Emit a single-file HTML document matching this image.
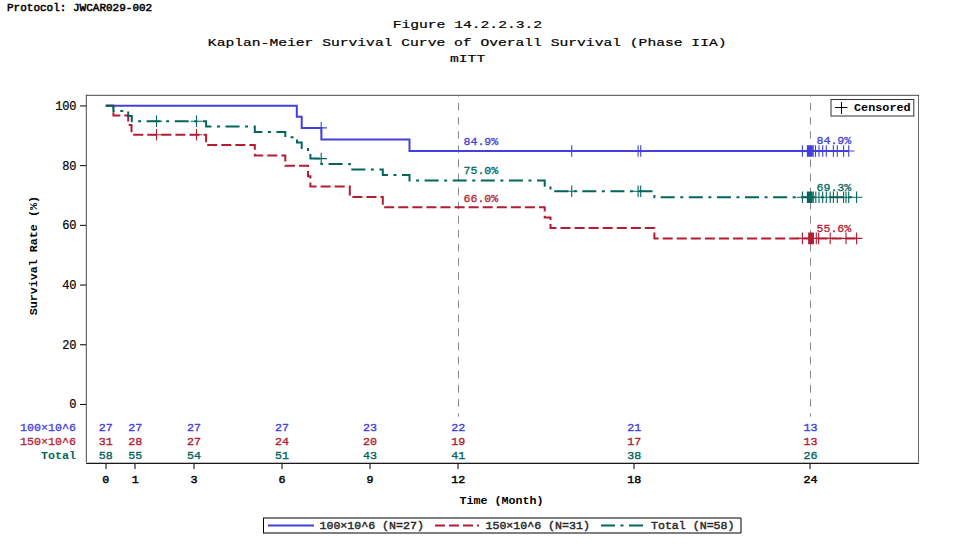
<!DOCTYPE html>
<html><head><meta charset="utf-8"><title>Figure 14.2.2.3.2</title>
<style>html,body{margin:0;padding:0;background:#fff;width:953px;height:554px;overflow:hidden}svg{display:block}</style>
</head><body>
<svg width="953" height="554" viewBox="0 0 953 554"><rect width="953" height="554" fill="#fff"/><text x="7" y="11.2" style="font-family:'Liberation Mono',monospace;font-size:11px;stroke:#000;stroke-width:0.5px">Protocol: JWCAR029-002</text><g style="font-family:'Liberation Mono',monospace;font-size:14.67px;stroke:#000;stroke-width:0.25px" text-anchor="middle" transform="scale(1 0.8)"><text x="467.4" y="34.75">Figure 14.2.2.3.2</text><text x="467.2" y="57.25">Kaplan-Meier Survival Curve of Overall Survival (Phase IIA)</text><text x="467.6" y="77.87">mITT</text></g><g stroke="#8a8a8a" stroke-width="1" stroke-dasharray="7.6 6.5" stroke-dashoffset="6.1"><line x1="458.5" y1="95" x2="458.5" y2="416.6"/><line x1="810.5" y1="95" x2="810.5" y2="416.6"/></g><path d="M85.5 95V463M86 94.5H918" stroke="#ddd" stroke-width="1" fill="none"/><path d="M86.5 95V463M86 95.5H919M918.5 95V463" stroke="#6a6a6a" stroke-width="1" fill="none"/><path d="M86 462.5H919" stroke="#bbb" stroke-width="1" fill="none"/><path d="M86 463.5H919" stroke="#1a1a1a" stroke-width="1" fill="none"/><rect x="86" y="95" width="1" height="1" fill="#333"/><rect x="918" y="95" width="1" height="1" fill="#333"/><path d="M80 404.45H86M80 344.75H86M80 285.05H86M80 225.35H86M80 165.65H86M80 105.95H86" stroke="#000" stroke-width="1" fill="none"/><g style="font-family:'Liberation Mono',monospace;font-size:12px;letter-spacing:-0.2px;stroke:#000;stroke-width:0.2px" text-anchor="end"><text x="76.3" y="408.4">0</text><text x="76.3" y="348.7">20</text><text x="76.3" y="289.0">40</text><text x="76.3" y="229.3">60</text><text x="76.3" y="169.6">80</text><text x="76.3" y="109.9">100</text></g><path d="M106 464V469M135 464V469M194 464V469M282 464V469M370 464V469M458 464V469M634 464V469M810 464V469" stroke="#000" stroke-width="1" fill="none"/><g style="font-family:'Liberation Mono',monospace;font-size:11.7px;stroke:#000;stroke-width:0.45px" text-anchor="middle"><text x="105.8" y="482.8">0</text><text x="135.2" y="482.8">1</text><text x="193.9" y="482.8">3</text><text x="282.0" y="482.8">6</text><text x="370.1" y="482.8">9</text><text x="458.3" y="482.8">12</text><text x="634.2" y="482.8">18</text><text x="810.4" y="482.8">24</text></g><g style="font-family:'Liberation Mono',monospace;font-size:11.7px;font-weight:bold" text-anchor="middle"><text x="501.5" y="503.8">Time (Month)</text></g><text transform="translate(37.4 255.7) rotate(-90)" text-anchor="middle" style="font-family:'Liberation Mono',monospace;font-size:11.7px;font-weight:bold">Survival Rate (%)</text><polyline points="105.8,105.8 296.8,105.8 296.8,116.8 301.7,116.8 301.7,127.9 321.4,127.9 321.4,139.4 409.5,139.4 409.5,151.0 848.7,151.0" fill="none" stroke="#4340da" stroke-width="2"/><path d="M321.2 122.1V133.7M315.4 127.9H327.0M571.7 145.2V156.8M565.9 151.0H577.5M638.1 145.2V156.8M632.3 151.0H643.9M640.7 145.2V156.8M634.9 151.0H646.5M802.4 145.2V156.8M796.6 151.0H808.2M807.4 145.2V156.8M801.6 151.0H813.2M808.3 145.2V156.8M802.5 151.0H814.1M809.1 145.2V156.8M803.3 151.0H814.9M810.0 145.2V156.8M804.2 151.0H815.8M811.0 145.2V156.8M805.2 151.0H816.8M812.0 145.2V156.8M806.2 151.0H817.8M813.2 145.2V156.8M807.4 151.0H819.0M815.5 145.2V156.8M809.7 151.0H821.3M819.0 145.2V156.8M813.2 151.0H824.8M822.7 145.2V156.8M816.9 151.0H828.5M826.3 145.2V156.8M820.5 151.0H832.1M833.4 145.2V156.8M827.6 151.0H839.2M837.3 145.2V156.8M831.5 151.0H843.1M843.6 145.2V156.8M837.8 151.0H849.4M848.7 145.2V156.8M842.9 151.0H854.5" stroke="#4340da" stroke-width="1.1" fill="none"/><polyline points="105.8,105.8 113.4,105.8 113.4,115.4 128.2,115.4 128.2,125.1 131.5,125.1 131.5,134.7 206.1,134.7 206.1,145.1 254.8,145.1 254.8,155.4 285.3,155.4 285.3,165.8 308.0,165.8 308.0,176.2 310.4,176.2 310.4,186.5 349.8,186.5 349.8,196.9 382.8,196.9 382.8,207.3 544.7,207.3 544.7,217.6 550.5,217.6 550.5,228.0 654.4,228.0 654.4,238.4 856.6,238.4" fill="none" stroke="#b31c32" stroke-width="2" stroke-dasharray="10.05 4.02" stroke-dashoffset="0"/><path d="M156.5 128.9V140.5M150.7 134.7H162.3M196.5 128.9V140.5M190.7 134.7H202.3M802.4 232.6V244.2M796.6 238.4H808.2M808.7 232.6V244.2M802.9 238.4H814.5M809.7 232.6V244.2M803.9 238.4H815.5M810.7 232.6V244.2M804.9 238.4H816.5M811.7 232.6V244.2M805.9 238.4H817.5M812.8 232.6V244.2M807.0 238.4H818.6M813.4 232.6V244.2M807.6 238.4H819.2M816.3 232.6V244.2M810.5 238.4H822.1M818.6 232.6V244.2M812.8 238.4H824.4M830.2 232.6V244.2M824.4 238.4H836.0M846.0 232.6V244.2M840.2 238.4H851.8M856.6 232.6V244.2M850.8 238.4H862.4" stroke="#b31c32" stroke-width="1.1" fill="none"/><polyline points="105.8,105.8 113.4,105.8 113.4,110.9 128.2,110.9 128.2,116.1 131.8,116.1 131.8,121.2 206.1,121.2 206.1,126.6 254.8,126.6 254.8,131.9 285.3,131.9 285.3,137.3 297.0,137.3 297.0,142.6 301.7,142.6 301.7,147.9 308.0,147.9 308.0,153.3 310.4,153.3 310.4,158.6 321.4,158.6 321.4,164.0 349.8,164.0 349.8,169.4 382.8,169.4 382.8,174.9 409.5,174.9 409.5,180.4 544.7,180.4 544.7,185.8 550.5,185.8 550.5,191.3 654.4,191.3 654.4,197.2 856.6,197.2" fill="none" stroke="#03665c" stroke-width="2" stroke-dasharray="14.04 5.53 3 5.53" stroke-dashoffset="0"/><path d="M156.5 115.4V127.0M150.7 121.2H162.3M196.5 115.4V127.0M190.7 121.2H202.3M321.2 152.8V164.4M315.4 158.6H327.0M571.7 185.5V197.1M565.9 191.3H577.5M638.1 185.5V197.1M632.3 191.3H643.9M640.7 185.5V197.1M634.9 191.3H646.5M802.4 191.4V203.0M796.6 197.2H808.2M807.4 191.4V203.0M801.6 197.2H813.2M808.3 191.4V203.0M802.5 197.2H814.1M809.1 191.4V203.0M803.3 197.2H814.9M810.0 191.4V203.0M804.2 197.2H815.8M811.0 191.4V203.0M805.2 197.2H816.8M812.0 191.4V203.0M806.2 197.2H817.8M813.3 191.4V203.0M807.5 197.2H819.1M815.8 191.4V203.0M810.0 197.2H821.6M819.0 191.4V203.0M813.2 197.2H824.8M822.7 191.4V203.0M816.9 197.2H828.5M826.3 191.4V203.0M820.5 197.2H832.1M830.2 191.4V203.0M824.4 197.2H836.0M833.4 191.4V203.0M827.6 197.2H839.2M837.3 191.4V203.0M831.5 197.2H843.1M843.6 191.4V203.0M837.8 197.2H849.4M846.0 191.4V203.0M840.2 197.2H851.8M848.7 191.4V203.0M842.9 197.2H854.5M856.6 191.4V203.0M850.8 197.2H862.4" stroke="#03665c" stroke-width="1.1" fill="none"/><g style="font-family:'Liberation Mono',monospace;font-size:11.6px;stroke-width:0.3px"><text x="463.5" y="145.2" fill="#4340da" stroke="#4340da">84.9%</text><text x="463.5" y="174.4" fill="#03665c" stroke="#03665c">75.0%</text><text x="463.5" y="201.8" fill="#b31c32" stroke="#b31c32">66.0%</text><text x="816.5" y="144.4" fill="#4340da" stroke="#4340da">84.9%</text><text x="816.5" y="190.8" fill="#03665c" stroke="#03665c">69.3%</text><text x="816.5" y="232.2" fill="#b31c32" stroke="#b31c32">55.6%</text></g><rect x="831" y="99.5" width="82.8" height="16.5" fill="#fff" stroke="#333" stroke-width="1"/><path d="M841.5 102V114M835 107.5H847.5" stroke="#000" stroke-width="1"/><text x="854" y="111.3" style="font-family:'Liberation Mono',monospace;font-size:11.8px;font-weight:bold">Censored</text><text x="76" y="431.0" fill="#4340da" text-anchor="end" style="font-family:'Liberation Mono',monospace;font-size:11.7px;stroke:#4340da;stroke-width:0.3px">100×10^6</text><g style="font-family:'Liberation Mono',monospace;font-size:11.7px;stroke:#4340da;stroke-width:0.35px" fill="#4340da" text-anchor="middle"><text x="105.8" y="431.0">27</text><text x="135.2" y="431.0">27</text><text x="193.9" y="431.0">27</text><text x="282.0" y="431.0">27</text><text x="370.1" y="431.0">23</text><text x="458.3" y="431.0">22</text><text x="634.2" y="431.0">21</text><text x="810.4" y="431.0">13</text></g><text x="76" y="445.2" fill="#b31c32" text-anchor="end" style="font-family:'Liberation Mono',monospace;font-size:11.7px;stroke:#b31c32;stroke-width:0.3px">150×10^6</text><g style="font-family:'Liberation Mono',monospace;font-size:11.7px;stroke:#b31c32;stroke-width:0.35px" fill="#b31c32" text-anchor="middle"><text x="105.8" y="445.2">31</text><text x="135.2" y="445.2">28</text><text x="193.9" y="445.2">27</text><text x="282.0" y="445.2">24</text><text x="370.1" y="445.2">20</text><text x="458.3" y="445.2">19</text><text x="634.2" y="445.2">17</text><text x="810.4" y="445.2">13</text></g><text x="76" y="459.3" fill="#03665c" text-anchor="end" style="font-family:'Liberation Mono',monospace;font-size:11.7px;font-weight:bold">Total</text><g style="font-family:'Liberation Mono',monospace;font-size:11.7px;stroke:#03665c;stroke-width:0.35px" fill="#03665c" text-anchor="middle"><text x="105.8" y="459.3">58</text><text x="135.2" y="459.3">55</text><text x="193.9" y="459.3">54</text><text x="282.0" y="459.3">51</text><text x="370.1" y="459.3">43</text><text x="458.3" y="459.3">41</text><text x="634.2" y="459.3">38</text><text x="810.4" y="459.3">26</text></g><path d="M263.5 517.5V533.5" stroke="#000" stroke-width="1"/><path d="M264 518H741V533H264" fill="#fff" stroke="#000" stroke-width="1"/><line x1="268" y1="525.5" x2="314" y2="525.5" stroke="#4340da" stroke-width="2"/><line x1="435" y1="525.5" x2="479" y2="525.5" stroke="#b31c32" stroke-width="2" stroke-dasharray="10 4"/><line x1="601" y1="525.5" x2="643" y2="525.5" stroke="#03665c" stroke-width="2" stroke-dasharray="14 5.5 3 5.5"/><g style="font-family:'Liberation Mono',monospace;font-size:11.6px;stroke:#2a2a2a;stroke-width:0.45px" fill="#2a2a2a"><text x="319.5" y="529">100×10^6 (N=27)</text><text x="485.5" y="529">150×10^6 (N=31)</text><text x="651" y="529">Total (N=58)</text></g></svg>
</body></html>
